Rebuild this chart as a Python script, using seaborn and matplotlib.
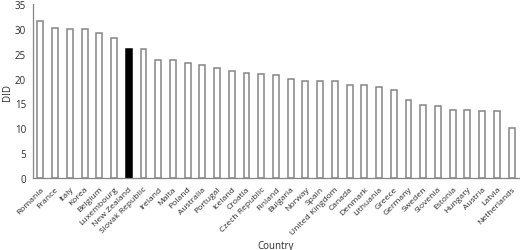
import matplotlib
matplotlib.use("Agg")
import matplotlib.pyplot as plt
import numpy as np
import pandas as pd
import seaborn as sns

# DID by country
countries = ["Romania", "France", "Italy", "Korea", "Belgium", "Luxembourg",
             "New Zealand", "Slovak Republic", "Ireland", "Malta", "Poland",
             "Australia", "Portugal", "Iceland", "Croatia", "Czech Republic",
             "Finland", "Bulgaria", "Norway", "Spain", "United Kingdom",
             "Canada", "Denmark", "Lithuania", "Greece", "Germany", "Sweden",
             "Slovenia", "Estonia", "Hungary", "Austria", "Latvia",
             "Netherlands"]
did = [31.6, 30.1, 30.0, 30.0, 29.2, 28.1,
       25.9, 25.9, 23.7, 23.7, 23.2,
       22.7, 22.1, 21.6, 21.1, 21.0,
       20.8, 19.9, 19.6, 19.5, 19.5,
       18.8, 18.7, 18.4, 17.7, 15.7, 14.6,
       14.4, 13.6, 13.6, 13.5, 13.4,
       10.1]
highlight = "New Zealand"

df = pd.DataFrame({"Country": countries, "DID": did})

sns.set_style("white")
plt.rcParams['font.family'] = ['Open Sans', 'DejaVu Sans']

grey = "#858585"
text_col = "#2a2a2a"

fig = plt.figure(figsize=(5.2, 2.51), dpi=100)
ax = fig.add_axes([0.0635, 0.2857, 0.9345, 0.6953])

palette = {c: ("black" if c == highlight else "white") for c in countries}
sns.barplot(data=df, x="Country", y="DID", hue="Country", palette=palette,
            legend=False, width=0.4, edgecolor=grey, linewidth=1.1, ax=ax)
for p, c in zip(ax.patches, countries):
    if c == highlight:
        p.set_edgecolor("black")

ax.set_xlim(-0.5, len(countries) - 0.5)
ax.set_ylim(0, 35)
ax.set_yticks(np.arange(0, 36, 5))

# tick marks between categories, labels under the bars
ax.set_xticks(np.arange(len(countries)))
ax.set_xticklabels(countries, rotation=45, ha="right", rotation_mode="anchor",
                   fontsize=6.1, color=text_col)
ax.set_xticks(np.arange(-0.5, len(countries), 1), minor=True)
ax.tick_params(axis="x", which="major", length=0, pad=5)
ax.tick_params(axis="x", which="minor", length=3, width=0.9, color=grey,
               direction="out")
ax.tick_params(axis="y", length=3, width=0.9, color=grey, direction="out",
               labelsize=7, labelcolor=text_col, pad=2)

sns.despine(ax=ax)
for s in ("left", "bottom"):
    ax.spines[s].set_color(grey)
    ax.spines[s].set_linewidth(0.9)

ax.set_xlabel("Country", fontsize=7, color=text_col)
ax.xaxis.set_label_coords(0.5, -0.355)
ax.set_ylabel("DID", fontsize=7, color=text_col, labelpad=1)

fig.savefig("out.png", dpi=100)
